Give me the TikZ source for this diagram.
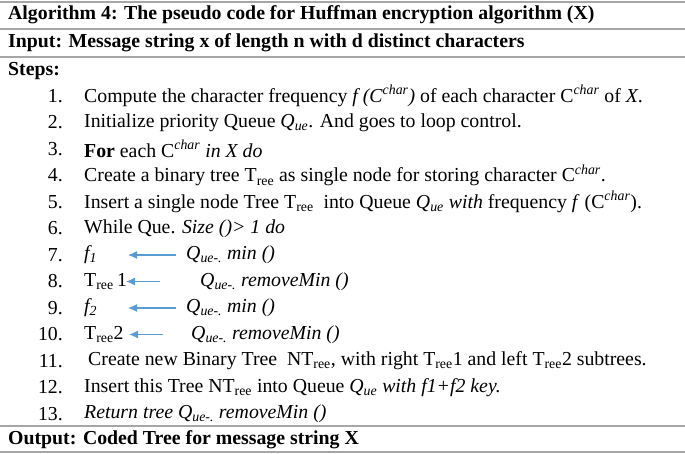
\documentclass[tikz,border=0pt]{standalone}
\usepackage{fontspec}
\setmainfont{Liberation Serif}
\usetikzlibrary{arrows.meta}
\begin{document}
\begin{tikzpicture}[x=1pt,y=-1pt,
  txt/.style={anchor=west,inner sep=0pt,font=\fontsize{19.8}{22}\selectfont},
  hd/.style={txt,font=\fontsize{19.8}{22}\selectfont\bfseries},
  num/.style={anchor=east,inner sep=0pt,font=\fontsize{19.8}{22}\selectfont},
  rule/.style={draw=gray!70,line width=1.3pt},
  arr/.style={draw={rgb,255:red,91;green,155;blue,213},line width=1.2pt,-{Latex[length=9pt,width=8pt]}}]
\useasboundingbox (0,0) rectangle (685,453);
\coordinate (r0a) at (0,2); \coordinate (r0b) at (685,2);
\coordinate (r1a) at (0,29); \coordinate (r1b) at (685,29);
\coordinate (r2a) at (0,57); \coordinate (r2b) at (685,57);
\coordinate (r3a) at (0,426); \coordinate (r3b) at (685,426);
\coordinate (r4a) at (0,452); \coordinate (r4b) at (685,452);
\draw[rule] (r0a)--(r0b); \draw[rule] (r1a)--(r1b); \draw[rule] (r2a)--(r2b);
\draw[rule] (r3a)--(r3b); \draw[rule] (r4a)--(r4b);
\node[hd] (title) at (8,15) {Algorithm 4: The pseudo code for Huffman encryption algorithm (X)};
\node[hd] (input) at (8,43) {Input: Message string x of length n with d distinct characters};
\node[hd] (steps) at (8,71) {Steps:};
\foreach \i in {1,...,13}{\node[num] (n\i) at (63,{96+(\i-1)*26.5}) {\i.};}
\node[txt] (l1) at (84,96) {Compute the character frequency \textit{f (C\textsuperscript{char})} of each character C\textsuperscript{\textit{char}} of \textit{X}.};
\node[txt] (l2) at (84,122.5) {Initialize priority Queue \textit{Q\textsubscript{ue}}. And goes to loop control.};
\node[txt] (l3) at (84,149) {\textbf{For} each C\textsuperscript{\textit{char}} \textit{in X do}};
\node[txt] (l4) at (84,175.5) {Create a binary tree T\textsubscript{ree} as single node for storing character C\textsuperscript{\textit{char}}.};
\node[txt] (l5) at (84,202) {Insert a single node Tree T\textsubscript{ree}\ \ into Queue \textit{Q\textsubscript{ue} with} frequency \textit{f} (C\textsuperscript{\textit{char}}).};
\node[txt] (l6) at (84,228.5) {While Que. \textit{Size ()> 1 do}};
\node[txt] (l7) at (84,255) {\textit{f\textsubscript{1}}};
\node[txt] (q7) at (186,255) {\textit{Q\textsubscript{ue-.} min ()}};
\node[txt] (l8) at (84,281.5) {T\textsubscript{ree}\,1};
\node[txt] (q8) at (200,281.5) {\textit{Q\textsubscript{ue-.} removeMin ()}};
\node[txt] (l9) at (84,308) {\textit{f\textsubscript{2}}};
\node[txt] (q9) at (186,308) {\textit{Q\textsubscript{ue-.} min ()}};
\node[txt] (l10) at (84,334.5) {T\textsubscript{ree}2};
\node[txt] (q10) at (191,334.5) {\textit{Q\textsubscript{ue-.} removeMin ()}};
\node[txt] (l11) at (88,361) {Create new Binary Tree\ \ NT\textsubscript{ree}, with right T\textsubscript{ree}1 and left T\textsubscript{ree}2 subtrees.};
\node[txt] (l12) at (84,387.5) {Insert this Tree NT\textsubscript{ree} into Queue \textit{Q\textsubscript{ue} with f1+f2 key.}};
\node[txt] (l13) at (84,414) {\textit{Return tree Q\textsubscript{ue-.} removeMin ()}};
\node[hd] (output) at (8,440) {Output: Coded Tree for message string X};
\coordinate (a7s) at (176,255); \coordinate (a7e) at (128,255);
\coordinate (a8s) at (160,281.5); \coordinate (a8e) at (126,281.5);
\coordinate (a9s) at (176,308); \coordinate (a9e) at (128,308);
\coordinate (a10s) at (163,334.5); \coordinate (a10e) at (129,334.5);
\draw[arr] (a7s)--(a7e); \draw[arr] (a8s)--(a8e);
\draw[arr] (a9s)--(a9e); \draw[arr] (a10s)--(a10e);
\end{tikzpicture}
\end{document}
